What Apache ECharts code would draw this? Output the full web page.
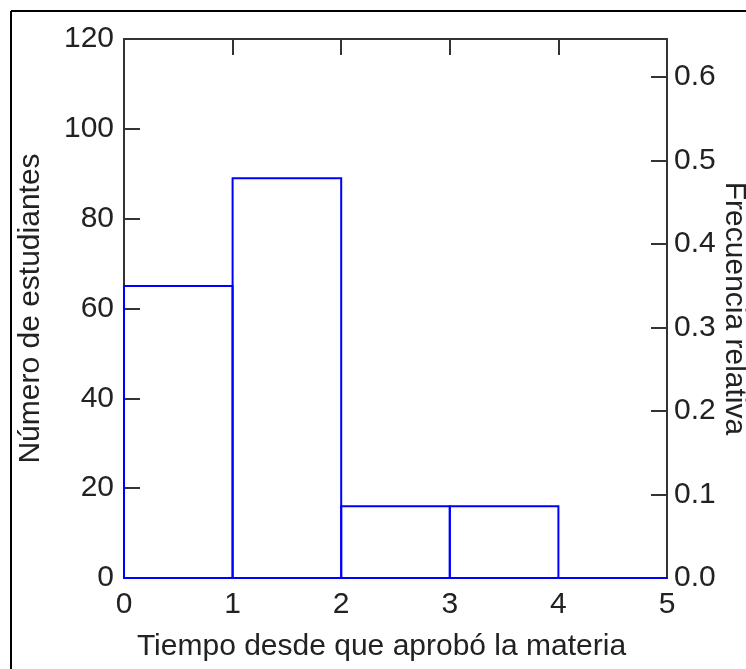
<!DOCTYPE html>
<html>
<head>
<meta charset="utf-8">
<script src="https://cdn.jsdelivr.net/npm/echarts@6/dist/echarts.min.js"></script>
<style>
html,body{margin:0;padding:0;background:#fff;}
#chart{width:746px;height:669px;}
</style>
</head>
<body>
<div id="chart"></div>
<script>
// Histogram data
const binStarts = [0, 1, 2, 3, 4];
const binEnds = [1, 2, 3, 4, 5];
const counts = [65, 89, 16, 16, 0];
const total = counts.reduce((a, b) => a + b, 0);

// Axis settings
const xMin = 0, xMax = 5, xStep = 1;
const yMin = 0, yMax = 120, yStep = 20;
const relStep = 0.1;
const xTitle = 'Tiempo desde que aprobó la materia';
const yTitle = 'Número de estudiantes';
const y2Title = 'Frecuencia relativa';

const FONT = "'Liberation Sans', Arial, sans-serif";
const TXT = '#222';

const chart = echarts.init(document.getElementById('chart'), null, {renderer: 'canvas'});

const data = binStarts.map((s, i) => [s, binEnds[i], counts[i]]);

chart.setOption({
  backgroundColor: '#fff',
  animation: false,
  grid: {left: 124, right: 79, top: 39, bottom: 91, containLabel: false, outerBoundsMode: 'none'},
  xAxis: [
    {
      type: 'value', position: 'bottom', min: xMin, max: xMax, interval: xStep,
      name: xTitle, nameLocation: 'middle', nameGap: 54, nameMoveOverlap: false,
      nameTextStyle: {fontFamily: FONT, fontSize: 30, color: TXT, padding: [0, 28, 0, 0]},
      axisLine: {show: true, onZero: false, lineStyle: {color: '#0000ff', width: 2}},
      axisTick: {show: false},
      axisLabel: {fontFamily: FONT, fontSize: 30, color: TXT, margin: 12},
      splitLine: {show: false}
    },
    {
      type: 'value', position: 'top', min: xMin, max: xMax, interval: xStep,
      axisLine: {show: true, onZero: false, lineStyle: {color: '#333', width: 2}},
      axisTick: {show: true, inside: true, length: 16, lineStyle: {color: '#333', width: 2}},
      axisLabel: {show: false},
      splitLine: {show: false}
    }
  ],
  yAxis: [
    {
      type: 'value', position: 'left', min: yMin, max: yMax, interval: yStep,
      name: yTitle, nameLocation: 'middle', nameGap: 78, nameRotate: 90, nameMoveOverlap: false,
      nameTextStyle: {fontFamily: FONT, fontSize: 30, color: TXT},
      axisLine: {show: true, onZero: false, lineStyle: {color: '#333', width: 2}},
      axisTick: {show: true, inside: true, length: 16, lineStyle: {color: '#333', width: 2}},
      axisLabel: {fontFamily: FONT, fontSize: 30, color: TXT, margin: 10},
      splitLine: {show: false}
    },
    {
      type: 'value', position: 'right', min: 0, max: yMax / total, interval: relStep,
      name: y2Title, nameLocation: 'middle', nameGap: 52, nameRotate: -90, nameMoveOverlap: false,
      nameTextStyle: {fontFamily: FONT, fontSize: 30, color: TXT},
      axisLine: {show: true, onZero: false, lineStyle: {color: '#333', width: 2}},
      axisTick: {show: true, inside: true, length: 16, lineStyle: {color: '#333', width: 2}},
      axisLabel: {fontFamily: FONT, fontSize: 30, color: TXT, margin: 7, showMaxLabel: false,
        formatter: v => v.toFixed(1)},
      splitLine: {show: false}
    }
  ],
  series: [{
    type: 'custom',
    xAxisIndex: 0, yAxisIndex: 0,
    clip: false,
    data: data,
    encode: {x: [0, 1], y: 2},
    renderItem: function (params, api) {
      const p0 = api.coord([api.value(0), api.value(2)]);
      const p1 = api.coord([api.value(1), 0]);
      return {
        type: 'rect',
        shape: {x: p0[0], y: p0[1], width: p1[0] - p0[0], height: p1[1] - p0[1]},
        style: {fill: null, stroke: '#0000ff', lineWidth: 2}
      };
    }
  }],
  graphic: [
    {type: 'line', shape: {x1: 11, y1: 11, x2: 746, y2: 11}, style: {stroke: '#000', lineWidth: 2}, z: 100},
    {type: 'line', shape: {x1: 11, y1: 11, x2: 11, y2: 669}, style: {stroke: '#000', lineWidth: 2}, z: 100}
  ]
});
</script>
</body>
</html>
